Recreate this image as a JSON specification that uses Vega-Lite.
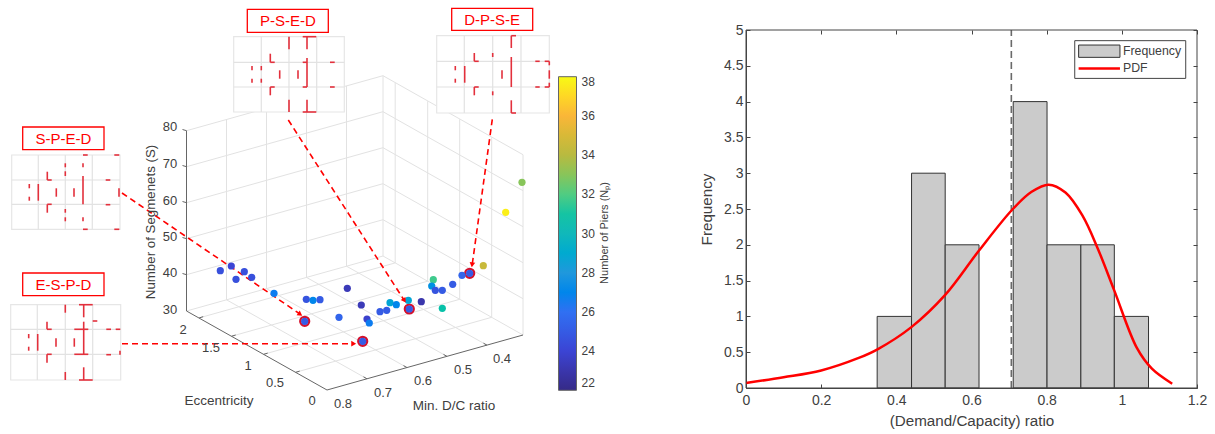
{
"$schema":"https://vega.github.io/schema/vega-lite/v6.json",
"width":1215,"height":434,"padding":0,"autosize":{"type":"none"},"background":"white",
"config":{"view":{"stroke":null},"font":"Liberation Sans"},
"datasets":{
"wall":[
{"u":186.5,"v":130.7,"u2":383,"v2":75.7},{"u":186.5,"v":166.7,"u2":383,"v2":111.7},{"u":186.5,"v":202.7,"u2":383,"v2":147.7},{"u":186.5,"v":238.7,"u2":383,"v2":183.7},{"u":186.5,"v":274.7,"u2":383,"v2":219.7},{"u":186.5,"v":311,"u2":383,"v2":256},
{"u":383,"v":75.7,"u2":523,"v2":154.7},{"u":383,"v":111.7,"u2":523,"v2":190.7},{"u":383,"v":147.7,"u2":523,"v2":226.7},{"u":383,"v":183.7,"u2":523,"v2":262.7},{"u":383,"v":219.7,"u2":523,"v2":298.7},{"u":383,"v":256,"u2":523,"v2":335},
{"u":226.5,"v":119.5,"u2":226.5,"v2":299.8},{"u":266.5,"v":108.3,"u2":266.5,"v2":288.6},{"u":306.5,"v":97.1,"u2":306.5,"v2":277.4},{"u":346.5,"v":85.9,"u2":346.5,"v2":266.2},{"u":383,"v":75.7,"u2":383,"v2":256},
{"u":395.2,"v":82.9,"u2":395.2,"v2":262.9},{"u":427.7,"v":101.2,"u2":427.7,"v2":281.2},{"u":459.7,"v":119.3,"u2":459.7,"v2":299.3},{"u":491.7,"v":137.3,"u2":491.7,"v2":317.3},{"u":523,"v":154.7,"u2":523,"v2":335},
{"u":226.5,"v":299.8,"u2":367,"v2":378.8},{"u":266.5,"v":288.6,"u2":407,"v2":367.6},{"u":306.5,"v":277.4,"u2":447,"v2":356.4},{"u":346.5,"v":266.2,"u2":487,"v2":345.2},
{"u":295.7,"v":372.3,"u2":491.7,"v2":317.3},{"u":263.7,"v":354.3,"u2":459.7,"v2":299.3},{"u":231.7,"v":336.2,"u2":427.7,"v2":281.2},{"u":199.2,"v":317.9,"u2":395.2,"v2":262.9}
],
"axis3d":[
{"u":186.5,"v":130.7,"u2":186.5,"v2":311},{"u":186.5,"v":311,"u2":327,"v2":390},{"u":327,"v":390,"u2":523,"v2":335},
{"u":182.5,"v":129.5,"u2":186.5,"v2":130.7},{"u":182.5,"v":165.5,"u2":186.5,"v2":166.7},{"u":182.5,"v":201.5,"u2":186.5,"v2":202.7},{"u":182.5,"v":237.5,"u2":186.5,"v2":238.7},{"u":182.5,"v":273.5,"u2":186.5,"v2":274.7},
{"u":295.7,"v":372.3,"u2":299.7,"v2":371.1},{"u":263.7,"v":354.3,"u2":267.7,"v2":353.1},{"u":231.7,"v":336.2,"u2":235.7,"v2":335},{"u":199.2,"v":317.9,"u2":203.2,"v2":316.7},
{"u":367,"v":378.8,"u2":363.5,"v2":376.8},{"u":407,"v":367.6,"u2":403.5,"v2":365.6},{"u":447,"v":356.4,"u2":443.5,"v2":354.4},{"u":487,"v":345.2,"u2":483.5,"v2":343.2},
{"u":574.2,"v":351.1,"u2":576.7,"v2":351.1},{"u":574.2,"v":311.9,"u2":576.7,"v2":311.9},{"u":574.2,"v":272.7,"u2":576.7,"v2":272.7},{"u":574.2,"v":233.5,"u2":576.7,"v2":233.5},{"u":574.2,"v":194.3,"u2":576.7,"v2":194.3},{"u":574.2,"v":155.1,"u2":576.7,"v2":155.1},{"u":574.2,"v":115.9,"u2":576.7,"v2":115.9}
],
"panels":[
{"u":11.7,"v":155,"u2":120,"v2":229.3},{"u":10.7,"v":304.7,"u2":120.7,"v2":380},{"u":233.7,"v":36.7,"u2":344.3,"v2":112},{"u":436.7,"v":35.7,"u2":549.3,"v2":113}
],
"panelGrid":[
{"u":38.3,"v":155,"u2":38.3,"v2":229.3},{"u":65.3,"v":155,"u2":65.3,"v2":229.3},{"u":92.3,"v":155,"u2":92.3,"v2":229.3},{"u":11.7,"v":180,"u2":120,"v2":180},{"u":11.7,"v":204.3,"u2":120,"v2":204.3},
{"u":37.3,"v":304.7,"u2":37.3,"v2":380},{"u":65.3,"v":304.7,"u2":65.3,"v2":380},{"u":92.7,"v":304.7,"u2":92.7,"v2":380},{"u":10.7,"v":329.3,"u2":120.7,"v2":329.3},{"u":10.7,"v":354.3,"u2":120.7,"v2":354.3},
{"u":261.3,"v":36.7,"u2":261.3,"v2":112},{"u":289,"v":36.7,"u2":289,"v2":112},{"u":316.7,"v":36.7,"u2":316.7,"v2":112},{"u":233.7,"v":62.3,"u2":344.3,"v2":62.3},{"u":233.7,"v":87,"u2":344.3,"v2":87},
{"u":464.3,"v":35.7,"u2":464.3,"v2":113},{"u":492.7,"v":35.7,"u2":492.7,"v2":113},{"u":521,"v":35.7,"u2":521,"v2":113},{"u":436.7,"v":61.3,"u2":549.3,"v2":61.3},{"u":436.7,"v":87,"u2":549.3,"v2":87}
],
"members":[
{"u":83,"v":155,"u2":87.7,"v2":155},{"u":114.3,"v":155,"u2":119.3,"v2":155},{"u":83,"v":229.3,"u2":87.7,"v2":229.3},{"u":114.3,"v":229.3,"u2":119.3,"v2":229.3},
{"u":65.3,"v":163.3,"u2":65.3,"v2":167.3},{"u":65.3,"v":171.3,"u2":65.3,"v2":176},{"u":83,"v":163.3,"u2":83,"v2":167.3},{"u":65.3,"v":209,"u2":65.3,"v2":212.7},{"u":65.3,"v":217.3,"u2":65.3,"v2":221.3},{"u":83,"v":217.3,"u2":83,"v2":221.3},
{"u":47.3,"v":171.7,"u2":47.3,"v2":180},{"u":47.3,"v":180,"u2":51.7,"v2":180},{"u":47.3,"v":204.3,"u2":47.3,"v2":212.7},{"u":47.3,"v":204.3,"u2":51.7,"v2":204.3},
{"u":29.3,"v":184,"u2":29.3,"v2":188.3},{"u":29.3,"v":196.7,"u2":29.3,"v2":200.7},{"u":38.3,"v":184,"u2":38.3,"v2":200.7},{"u":56.3,"v":188.3,"u2":56.3,"v2":196.7},{"u":74,"v":188.3,"u2":74,"v2":196.7},{"u":83,"v":176,"u2":83,"v2":204.3},
{"u":105.7,"v":180,"u2":110.3,"v2":180},{"u":105.7,"v":204.7,"u2":110.3,"v2":204.7},{"u":119,"v":188.3,"u2":119,"v2":196.7},
{"u":65.3,"v":304.7,"u2":65.3,"v2":312.7},{"u":79,"v":304.7,"u2":92.7,"v2":304.7},{"u":83.7,"v":304.7,"u2":83.7,"v2":317.3},{"u":92.7,"v":321,"u2":97.3,"v2":321},{"u":83.7,"v":321.7,"u2":83.7,"v2":354.3},{"u":74.3,"v":329.3,"u2":88.3,"v2":329.3},{"u":74.3,"v":354.3,"u2":88.3,"v2":354.3},
{"u":106.3,"v":329.3,"u2":111,"v2":329.3},{"u":115.7,"v":329.3,"u2":120.3,"v2":329.3},{"u":106.3,"v":354.7,"u2":111,"v2":354.7},{"u":120,"v":350.7,"u2":120,"v2":354.7},
{"u":47,"v":321.7,"u2":47,"v2":329.3},{"u":47,"v":329.3,"u2":51.7,"v2":329.3},{"u":47,"v":354.3,"u2":47,"v2":362.7},{"u":47,"v":354.3,"u2":51.7,"v2":354.3},
{"u":28.7,"v":334,"u2":28.7,"v2":338.3},{"u":28.7,"v":346.7,"u2":28.7,"v2":350.7},{"u":37.7,"v":334,"u2":37.7,"v2":350.7},{"u":56,"v":338.3,"u2":56,"v2":346.7},{"u":74.3,"v":338.3,"u2":74.3,"v2":346.7},
{"u":65.3,"v":372,"u2":65.3,"v2":380},{"u":83.7,"v":367.3,"u2":83.7,"v2":380},{"u":79,"v":380,"u2":92.7,"v2":380},
{"u":289,"v":36.7,"u2":289,"v2":49.3},{"u":302.7,"v":36.7,"u2":316.3,"v2":36.7},{"u":307,"v":36.7,"u2":307,"v2":49.3},{"u":289,"v":99.7,"u2":289,"v2":112},{"u":307,"v":99.7,"u2":307,"v2":112},{"u":302.7,"v":112,"u2":316.3,"v2":112},
{"u":307,"v":58,"u2":307,"v2":87},{"u":302.7,"v":62.3,"u2":307,"v2":62.3},{"u":302.7,"v":87,"u2":307,"v2":87},
{"u":270.3,"v":53.7,"u2":270.3,"v2":62.3},{"u":270.3,"v":62.3,"u2":274.7,"v2":62.3},{"u":270.3,"v":87,"u2":270.3,"v2":95.3},{"u":270.3,"v":87,"u2":274.7,"v2":87},
{"u":252,"v":66,"u2":252,"v2":70.3},{"u":252,"v":78.7,"u2":252,"v2":82.7},{"u":261.3,"v":66,"u2":261.3,"v2":70.3},{"u":261.3,"v":78.7,"u2":261.3,"v2":82.7},{"u":279.7,"v":70.3,"u2":279.7,"v2":78.7},{"u":298,"v":70.3,"u2":298,"v2":78.7},
{"u":330,"v":62.3,"u2":334.7,"v2":62.3},{"u":330,"v":87,"u2":334.7,"v2":87},
{"u":511.3,"v":35.7,"u2":511.3,"v2":48},{"u":511.3,"v":35.7,"u2":516,"v2":35.7},{"u":511.3,"v":100.3,"u2":511.3,"v2":113},{"u":511.3,"v":113,"u2":516,"v2":113},
{"u":492.7,"v":53,"u2":492.7,"v2":57},{"u":492.7,"v":91.3,"u2":492.7,"v2":95.3},{"u":511.3,"v":57,"u2":511.3,"v2":87},
{"u":474.3,"v":53,"u2":474.3,"v2":61.3},{"u":474.3,"v":61.3,"u2":478.7,"v2":61.3},{"u":474.3,"v":87,"u2":474.3,"v2":95.3},{"u":474.3,"v":87,"u2":478.7,"v2":87},
{"u":455.3,"v":66,"u2":455.3,"v2":70.3},{"u":455.3,"v":78.7,"u2":455.3,"v2":82.7},{"u":464.7,"v":66,"u2":464.7,"v2":82.7},{"u":502,"v":70.3,"u2":502,"v2":78.7},
{"u":535.3,"v":61.3,"u2":539.7,"v2":61.3},{"u":535.3,"v":87,"u2":539.7,"v2":87},{"u":544.7,"v":61.3,"u2":549.3,"v2":61.3},{"u":544.7,"v":87,"u2":549.3,"v2":87},{"u":549.3,"v":61.3,"u2":549.3,"v2":65.3},{"u":549.3,"v":70.3,"u2":549.3,"v2":78.7},{"u":549.3,"v":82.7,"u2":549.3,"v2":87}
],
"leaders":[
{"u":122,"v":193,"u2":300,"v2":314},{"u":122,"v":343.7,"u2":353,"v2":343.7},{"u":288.3,"v":120,"u2":404,"v2":300},{"u":492.3,"v":119.3,"u2":472.3,"v2":264}
],
"designs":[
{"design":"P-S-E-D","u":247.3,"v":9.3,"u2":328.3,"v2":32.3,"cu":287.8,"cv":21},
{"design":"D-P-S-E","u":451.7,"v":8.3,"u2":532.7,"v2":30.3,"cu":492.2,"cv":19.5},
{"design":"S-P-E-D","u":22.7,"v":127,"u2":104,"v2":149.7,"cu":63.3,"cv":138.5},
{"design":"E-S-P-D","u":22.7,"v":273,"u2":104,"v2":295.7,"cu":63.3,"cv":284.5}
],
"points":[
{"u":220.3,"v":270.7,"Np":24.5},{"u":231.3,"v":266,"Np":24},{"u":236,"v":279.3,"Np":24.5},{"u":244.3,"v":271.7,"Np":24.5},{"u":251.7,"v":277.3,"Np":24.5},{"u":274,"v":293.3,"Np":26.5},
{"u":306.3,"v":299.3,"Np":24.7},{"u":313,"v":300.3,"Np":27},{"u":320,"v":299.7,"Np":25},{"u":304.7,"v":321.3,"Np":25,"selected":true},
{"u":347.3,"v":288.3,"Np":23.3},{"u":361.3,"v":305,"Np":23.3},{"u":339,"v":317.3,"Np":25.5},{"u":367,"v":319,"Np":23.8},{"u":369.3,"v":323,"Np":26.5},{"u":362.7,"v":341.3,"Np":25,"selected":true},
{"u":380,"v":311.7,"Np":25},{"u":386.7,"v":310.3,"Np":25},{"u":390,"v":302.7,"Np":28.7},{"u":396.3,"v":304.7,"Np":27},{"u":408.3,"v":300.3,"Np":28.7},{"u":409.3,"v":309,"Np":25,"selected":true},
{"u":421.3,"v":301.7,"Np":23},{"u":442.3,"v":308.3,"Np":30.8},{"u":433.3,"v":279.7,"Np":31.7},{"u":431.7,"v":286,"Np":27.6},{"u":435.3,"v":290.3,"Np":24.7},{"u":442.3,"v":290.3,"Np":25},{"u":452.7,"v":284.3,"Np":25},{"u":462,"v":275.3,"Np":25.5},{"u":469.7,"v":273.3,"Np":25,"selected":true},
{"u":483.3,"v":265.7,"Np":34.5},{"u":522,"v":182.3,"Np":33},{"u":505.7,"v":212.3,"Np":37.7}
],
"ticklabels":[
{"u":170,"v":127,"t":"80"},{"u":170,"v":164,"t":"70"},{"u":170,"v":200.5,"t":"60"},{"u":170,"v":237,"t":"50"},{"u":170,"v":273,"t":"40"},{"u":170,"v":310,"t":"30"},
{"u":183,"v":330,"t":"2"},{"u":211,"v":348,"t":"1.5"},{"u":248,"v":366,"t":"1"},{"u":275,"v":383,"t":"0.5"},{"u":312,"v":401,"t":"0"},
{"u":343,"v":404,"t":"0.8"},{"u":383,"v":393,"t":"0.7"},{"u":423,"v":381,"t":"0.6"},{"u":463,"v":370,"t":"0.5"},{"u":502,"v":359,"t":"0.4"}
],
"axistitles":[
{"u":219,"v":401.3,"t":"Eccentricity"},{"u":454,"v":406.3,"t":"Min. D/C ratio"}
],
"bins":[
{"x0":0.349,"x1":0.4405,"n":1},{"x0":0.4405,"x1":0.53,"n":3},{"x0":0.53,"x1":0.62,"n":2},{"x0":0.711,"x1":0.801,"n":4},{"x0":0.801,"x1":0.891,"n":2},{"x0":0.891,"x1":0.98,"n":2},{"x0":0.98,"x1":1.071,"n":1}
],
"pdf":[
{"x":0,"y":0.07},{"x":0.1,"y":0.15},{"x":0.2,"y":0.245},{"x":0.3,"y":0.42},{"x":0.35,"y":0.54},{"x":0.44,"y":0.85},{"x":0.53,"y":1.3},{"x":0.62,"y":1.92},{"x":0.71,"y":2.5},{"x":0.76,"y":2.74},{"x":0.805,"y":2.84},{"x":0.85,"y":2.73},{"x":0.895,"y":2.41},{"x":0.935,"y":1.96},{"x":0.98,"y":1.36},{"x":1.04,"y":0.56},{"x":1.08,"y":0.27},{"x":1.134,"y":0.06}
]
},
"layer":[
{
"encoding":{
"x":{"field":"u","type":"quantitative","axis":null,"scale":{"domain":[0,1215],"range":[0,1215],"nice":false,"zero":false}},
"y":{"field":"v","type":"quantitative","axis":null,"scale":{"domain":[0,434],"range":[0,434],"nice":false,"zero":false}}
},
"layer":[
{"data":{"name":"wall"},"mark":{"type":"rule","color":"#e2e2e2","strokeWidth":1},"encoding":{"x2":{"field":"u2"},"y2":{"field":"v2"}}},
{"data":{"name":"axis3d"},"mark":{"type":"rule","color":"#666666","strokeWidth":1},"encoding":{"x2":{"field":"u2"},"y2":{"field":"v2"}}},
{"data":{"name":"leaders"},"mark":{"type":"rule","color":"#ff0000","strokeWidth":1.6,"strokeDash":[6,4]},"encoding":{"x2":{"field":"u2"},"y2":{"field":"v2"}}},
{"data":{"name":"panels"},"mark":{"type":"rect","fill":"white","stroke":"#e6e6e6","strokeWidth":1.2},"encoding":{"x2":{"field":"u2"},"y2":{"field":"v2"}}},
{"data":{"name":"panelGrid"},"mark":{"type":"rule","color":"#e2e2e2","strokeWidth":1.2},"encoding":{"x2":{"field":"u2"},"y2":{"field":"v2"}}},
{"data":{"name":"members"},"mark":{"type":"rule","color":"#e3303c","strokeWidth":1.6},"encoding":{"x2":{"field":"u2"},"y2":{"field":"v2"}}},
{"data":{"name":"designs"},"mark":{"type":"rect","fill":"white","stroke":"#ff0000","strokeWidth":1.3},"encoding":{"x2":{"field":"u2"},"y2":{"field":"v2"}}},
{"data":{"name":"designs"},"mark":{"type":"text","color":"#ff0000","fontSize":15,"align":"center","baseline":"middle"},"encoding":{"x":{"field":"cu"},"y":{"field":"cv"},"text":{"field":"design"}}},
{"data":{"name":"points"},"transform":[{"filter":"datum.selected"}],"mark":{"type":"point","filled":false,"shape":"circle","stroke":"#d5102c","strokeWidth":2.4,"opacity":1,"size":78},"encoding":{}},
{"data":{"name":"points"},"mark":{"type":"circle","size":52,"opacity":1},"encoding":{"color":{"field":"Np","type":"quantitative","scale":{"type":"linear","domain":[22,24,26,28,30,32,34,36,38],"range":["#352a87","#3b44d4","#3070f2","#2098dc","#10b8ba","#50cc82","#b8ba40","#fab638","#f8fa14"]},"legend":{"orient":"none","legendX":558.5,"legendY":76.7,"title":null,"type":"gradient","direction":"vertical","values":[22,24,26,28,30,32,34,36,38],"gradientLength":313.6,"gradientThickness":18,"gradientStrokeColor":"#666666","gradientStrokeWidth":1,"labelFontSize":12,"labelColor":"#404040","labelOverlap":false,"labelOffset":5,"labelBaseline":"middle","labelFont":"Liberation Sans"}}}},
{"data":{"name":"ticklabels"},"mark":{"type":"text","color":"#404040","fontSize":13,"align":"center","baseline":"middle"},"encoding":{"text":{"field":"t"}}},
{"data":{"name":"axistitles"},"mark":{"type":"text","color":"#404040","fontSize":13.5,"align":"center","baseline":"middle"},"encoding":{"text":{"field":"t"}}},
{"data":{"values":[{"u":151,"v":222,"t":"Number of Segmenets (S)"}]},"mark":{"type":"text","color":"#404040","fontSize":13.3,"angle":270,"align":"center","baseline":"middle"},"encoding":{"text":{"field":"t"}}},
{"data":{"values":[{"u":605,"v":233,"t":"Number of Piers (Nₚ)"}]},"mark":{"type":"text","color":"#404040","fontSize":11,"angle":270,"align":"center","baseline":"middle"},"encoding":{"text":{"field":"t"}}},
{"data":{"values":[{"u":300.2,"v":314.3}]},"mark":{"type":"point","shape":"triangle-up","filled":true,"color":"#ff0000","opacity":1,"size":32,"angle":124},"encoding":{}},
{"data":{"values":[{"u":353.7,"v":343.7}]},"mark":{"type":"point","shape":"triangle-up","filled":true,"color":"#ff0000","opacity":1,"size":32,"angle":90},"encoding":{}},
{"data":{"values":[{"u":404.4,"v":300.5}]},"mark":{"type":"point","shape":"triangle-up","filled":true,"color":"#ff0000","opacity":1,"size":32,"angle":147},"encoding":{}},
{"data":{"values":[{"u":472.1,"v":264.7}]},"mark":{"type":"point","shape":"triangle-up","filled":true,"color":"#ff0000","opacity":1,"size":32,"angle":188},"encoding":{}}
]
},
{
"layer":[
{"data":{"name":"bins"},"mark":{"type":"rect","fill":"#cbcbcb","stroke":"#333333","strokeWidth":1},
"encoding":{
"x":{"field":"x0","type":"quantitative","title":"(Demand/Capacity) ratio","scale":{"domain":[0,1.2],"range":[746,1197],"nice":false,"zero":false},"axis":{"orient":"bottom","offset":-46,"values":[0,0.2,0.4,0.6,0.8,1,1.2],"format":"~g","grid":false,"tickSize":-4,"tickColor":"#444444","domainColor":"#444444","labelFontSize":14,"labelColor":"#404040","labelPadding":9,"labelFlush":false,"titleFontSize":15.2,"titleFontWeight":"normal","titleColor":"#404040","titlePadding":6}},
"x2":{"field":"x1"},
"y":{"field":"n","type":"quantitative","title":"Frequency","scale":{"domain":[0,5],"range":[388,30],"nice":false,"zero":false},"axis":{"orient":"left","offset":-746,"values":[0,0.5,1,1.5,2,2.5,3,3.5,4,4.5,5],"format":"~g","grid":false,"tickSize":-4,"tickColor":"#444444","domainColor":"#444444","labelFontSize":14,"labelColor":"#404040","labelPadding":7,"labelFlush":false,"titleFontSize":15.2,"titleFontWeight":"normal","titleColor":"#404040","titlePadding":9}},
"y2":{"datum":0}
}},
{"data":{"values":[{"x":0.706,"y":0,"y2":5}]},"mark":{"type":"rule","color":"#6a6a6a","strokeWidth":1.6,"strokeDash":[7,4]},"encoding":{"x":{"field":"x","type":"quantitative"},"y":{"field":"y","type":"quantitative"},"y2":{"field":"y2"}}},
{"data":{"name":"pdf"},"mark":{"type":"line","color":"#ff0000","strokeWidth":2.5,"interpolate":"catmull-rom"},"encoding":{"x":{"field":"x","type":"quantitative"},"y":{"field":"y","type":"quantitative"}}},
{"data":{"values":[{"a":0.8747,"b":1.17,"c":4.324,"d":4.851}]},"mark":{"type":"rect","fill":"white","stroke":"#444444","strokeWidth":1},"encoding":{"x":{"field":"a","type":"quantitative"},"x2":{"field":"b"},"y":{"field":"c","type":"quantitative"},"y2":{"field":"d"}}},
{"data":{"values":[{"a":0.885,"b":0.995,"c":4.618,"d":4.79}]},"mark":{"type":"rect","fill":"#cbcbcb","stroke":"#333333","strokeWidth":1},"encoding":{"x":{"field":"a","type":"quantitative"},"x2":{"field":"b"},"y":{"field":"c","type":"quantitative"},"y2":{"field":"d"}}},
{"data":{"values":[{"a":0.885,"b":0.995,"c":4.464}]},"mark":{"type":"rule","color":"#ff0000","strokeWidth":2.5},"encoding":{"x":{"field":"a","type":"quantitative"},"x2":{"field":"b"},"y":{"field":"c","type":"quantitative"}}},
{"data":{"values":[{"a":1.003,"c":4.7,"t":"Frequency"},{"a":1.003,"c":4.464,"t":"PDF"}]},"mark":{"type":"text","color":"#404040","fontSize":12.3,"align":"left","baseline":"middle"},"encoding":{"x":{"field":"a","type":"quantitative"},"y":{"field":"c","type":"quantitative"},"text":{"field":"t"}}}
]
},
{
"data":{"values":[{"x0":0,"x1":1.2,"y0":0,"y1":5}]},
"mark":{"type":"rect","fill":"transparent","stroke":"#444444","strokeWidth":1},
"encoding":{
"x":{"field":"x0","type":"quantitative","title":null,"scale":{"domain":[0,1.2],"range":[746,1197],"nice":false,"zero":false},"axis":{"orient":"top","offset":-30,"values":[0,0.2,0.4,0.6,0.8,1,1.2],"labels":false,"domain":false,"grid":false,"tickSize":-4,"tickColor":"#444444"}},
"x2":{"field":"x1"},
"y":{"field":"y0","type":"quantitative","title":null,"scale":{"domain":[0,5],"range":[388,30],"nice":false,"zero":false},"axis":{"orient":"right","offset":-18,"values":[0,0.5,1,1.5,2,2.5,3,3.5,4,4.5,5],"labels":false,"domain":false,"grid":false,"tickSize":-4,"tickColor":"#444444"}},
"y2":{"field":"y1"}
}
}
],
"resolve":{"scale":{"x":"independent","y":"independent"},"axis":{"x":"independent","y":"independent"}}
}
